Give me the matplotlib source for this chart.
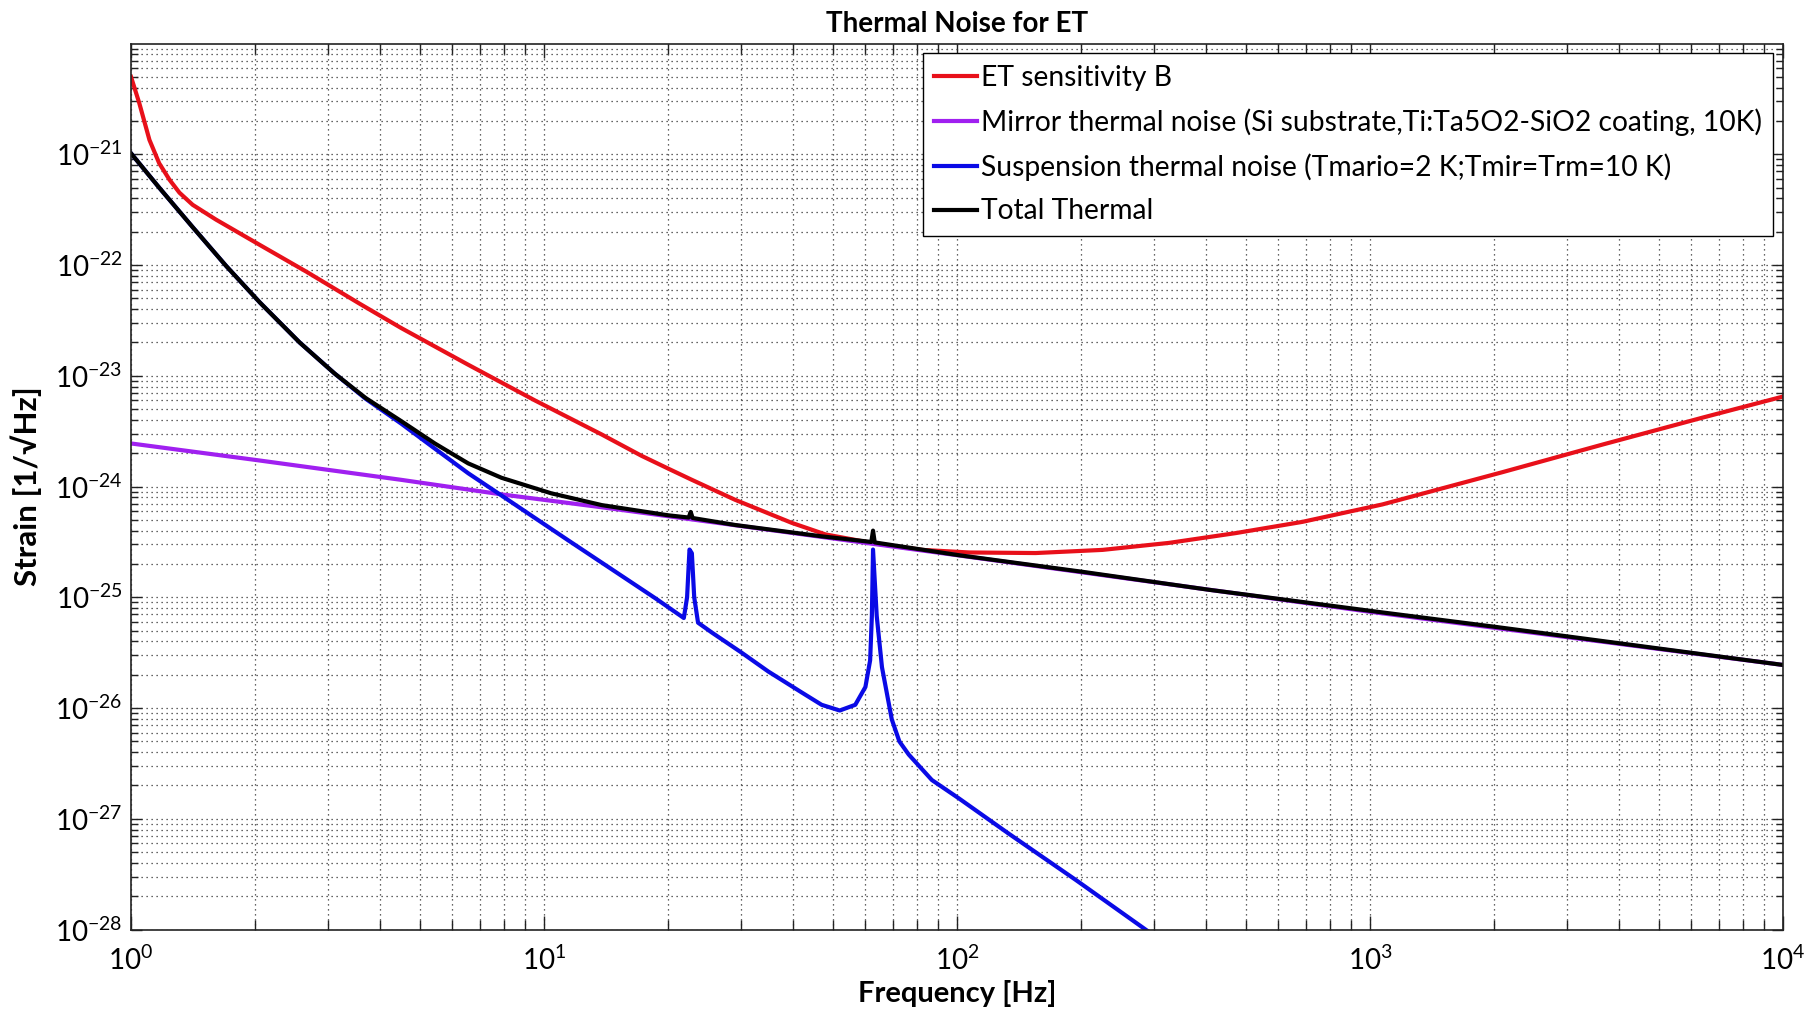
"""Thermal noise budget for ET, redrawn from a MATLAB log-log figure."""

import matplotlib
matplotlib.use("Agg")
import matplotlib.pyplot as plt
import matplotlib.ticker as ticker
import numpy as np

plt.rcParams["font.family"] = ["Lato", "DejaVu Sans"]
plt.rcParams["mathtext.fontset"] = "custom"
plt.rcParams["mathtext.rm"] = "Lato"
plt.rcParams["mathtext.it"] = "Lato:italic"
plt.rcParams["mathtext.bf"] = "Lato:bold"

# ET sensitivity B (red)
et_freq = [1.0, 1.047, 1.108, 1.17, 1.239, 1.31, 1.41, 1.607, 2.05, 2.66, 3.58, 4.51,
           6.55, 9.5, 13.8, 17.2, 20.0, 22.8, 29.0, 39.8, 48.0, 62.0, 82.3, 107, 155,
           225, 326, 473, 686, 1072, 2094, 3664, 6397, 10000]
et_strain = [5.0e-21, 2.9e-21, 1.35e-21, 8.3e-22, 5.9e-22, 4.5e-22, 3.5e-22, 2.57e-22,
             1.52e-22, 8.7e-23, 4.47e-23, 2.7e-23, 1.26e-23, 6.0e-24, 2.95e-24, 1.9e-24,
             1.45e-24, 1.15e-24, 7.6e-25, 4.7e-25, 3.7e-25, 3.1e-25, 2.68e-25, 2.54e-25,
             2.51e-25, 2.68e-25, 3.1e-25, 3.8e-25, 4.8e-25, 6.9e-25, 1.35e-24,
             2.4e-24, 4.2e-24, 6.5e-24]

# mirror thermal noise (purple)
mirror_freq = [1.0, 2.0, 4.51, 7.89, 13.8, 30, 100, 1000, 10000]
mirror_strain = [2.45e-24, 1.74e-24, 1.15e-24, 8.5e-25, 6.5e-25, 4.4e-25, 2.4e-25,
                 7.4e-26, 2.45e-26]

# suspension thermal noise (blue)
susp_freq = [1.0, 1.17, 1.41, 1.70, 2.05, 2.56, 3.11, 3.7, 4.51, 5.44, 6.55, 7.89, 11.4,
             18.6, 21.8, 22.2, 22.5, 22.8, 23.1, 23.6, 25.5, 30.1, 34.9, 42.1, 47.0,
             52.0, 56.7, 60.0, 61.6, 62.2, 62.6, 63.9, 65.8, 69.5, 72.5, 76.4, 86.9, 101,
             133, 194, 291.6]
susp_strain = [1.02e-21, 5.0e-22, 2.2e-22, 9.8e-23, 4.6e-23, 2.0e-23, 1.05e-23, 6.2e-24,
               3.7e-24, 2.2e-24, 1.32e-24, 8.3e-25, 3.3e-25, 9.8e-26, 6.5e-26, 1.0e-25,
               2.7e-25, 2.5e-25, 1.0e-25, 5.9e-26, 4.8e-26, 3.16e-26, 2.14e-26, 1.38e-26,
               1.07e-26, 9.5e-27, 1.07e-26, 1.55e-26, 2.7e-26, 6.8e-26, 2.7e-25, 6.8e-26,
               2.34e-26, 7.9e-27, 5.0e-27, 3.8e-27, 2.24e-27, 1.53e-27, 7.4e-28, 2.8e-28,
               9.5e-29]

# total thermal (black)
total_freq = [1.0, 1.17, 1.41, 1.70, 2.05, 2.56, 3.11, 3.7, 4.51, 5.44, 6.55, 7.89, 10.4,
              13.8, 20.0, 22.4, 22.65, 22.9, 29.0, 47.1, 62.0, 62.6, 63.2, 73.6, 101,
              201, 407, 1072, 2018, 10000]
total_strain = [1.02e-21, 5.0e-22, 2.2e-22, 9.8e-23, 4.6e-23, 2.0e-23, 1.05e-23, 6.3e-24,
                3.9e-24, 2.45e-24, 1.62e-24, 1.2e-24, 8.7e-25, 6.8e-25, 5.5e-25, 5.25e-25,
                5.9e-25, 5.2e-25, 4.5e-25, 3.55e-25, 3.16e-25, 4.0e-25, 3.13e-25, 2.87e-25,
                2.4e-25, 1.7e-25, 1.17e-25, 7.3e-26, 5.4e-26, 2.45e-26]

labels = [
    "ET sensitivity B",
    "Mirror thermal noise (Si substrate,Ti:Ta5O2-SiO2 coating, 10K)",
    "Suspension thermal noise (Tmario=2 K;Tmir=Trm=10 K)",
    "Total Thermal",
]
x_decades = [0, 1, 2, 3, 4]
y_decades = [-28, -27, -26, -25, -24, -23, -22, -21]


fig = plt.figure(figsize=(18.1, 10.16), dpi=100)
ax = fig.add_axes([0.0724, 0.0851, 0.9127, 0.8720])

lw = 3.0
ax.loglog(et_freq, et_strain, color="#e8101a", lw=lw, label=labels[0])
ax.loglog(mirror_freq, mirror_strain, color="#a020f0", lw=lw, label=labels[1])
ax.loglog(susp_freq, susp_strain, color="#0a0ae6", lw=lw, label=labels[2])
ax.loglog(total_freq, total_strain, color="black", lw=lw, label=labels[3])

ax.set_xlim(1, 1e4)
ax.set_ylim(1e-28, 1e-20)

ax.set_xticks([10.0 ** d for d in x_decades])
ax.set_xticklabels([rf"$\mathdefault{{10^{{{d}}}}}$" for d in x_decades])
ax.set_yticks([10.0 ** d for d in y_decades])
ax.set_yticklabels([rf"$\mathdefault{{10^{{{d}}}}}$" for d in y_decades])
ax.xaxis.set_minor_locator(ticker.LogLocator(base=10, subs=np.arange(2, 10), numticks=100))
ax.yaxis.set_minor_locator(ticker.LogLocator(base=10, subs=np.arange(2, 10), numticks=100))
ax.xaxis.set_minor_formatter(ticker.NullFormatter())
ax.yaxis.set_minor_formatter(ticker.NullFormatter())

ax.tick_params(which="both", direction="in", top=True, right=True, labelsize=20,
               width=1.0, color="#222222")
ax.tick_params(axis="x", which="major", length=10, pad=12)
ax.tick_params(axis="x", which="minor", length=7)
ax.tick_params(axis="y", which="major", length=8, pad=6)
ax.tick_params(axis="y", which="minor", length=5)

ax.grid(True, which="both", color="#333333", linewidth=0.9, linestyle=(0, (1, 3)))
for spine in ax.spines.values():
    spine.set_linewidth(1.2)
    spine.set_color("#222222")

ax.set_title("Thermal Noise for ET", fontsize=20, fontweight="bold", pad=8)
ax.set_xlabel("Frequency [Hz]", fontsize=21, fontweight="bold", labelpad=3)
ax.set_ylabel("Strain [1/\u221aHz]", fontsize=22.5, fontweight="bold", labelpad=9)

leg = ax.legend(loc="upper right", fontsize=20.3, frameon=True, fancybox=False,
                edgecolor="black", framealpha=1.0, borderaxespad=0.35,
                handlelength=1.5, handletextpad=0.15, labelspacing=0.62,
                borderpad=0.4)
leg.get_frame().set_linewidth(1.0)

fig.savefig("out.png", dpi=100)
